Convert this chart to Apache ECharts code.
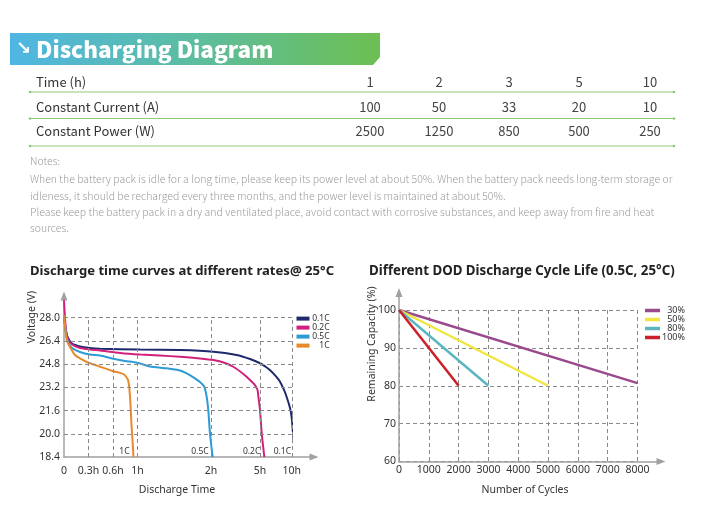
<!DOCTYPE html>
<html><head><meta charset="utf-8">
<script src="https://cdn.jsdelivr.net/npm/echarts@6/dist/echarts.min.js"></script>
<style>html,body{margin:0;padding:0;background:#fff}#c{width:724px;height:514px}</style>
</head><body><div id="c"></div>
<script>
// ---------------- data ----------------
const tableRowLabels = ['Time (h)', 'Constant Current (A)', 'Constant Power (W)'];
const timeHoursRow = [1, 2, 3, 5, 10];
const constantCurrentRow = [100, 50, 33, 20, 10];
const constantPowerRow = [2500, 1250, 850, 500, 250];
const noteLines = [
  'Notes:',
  'When the battery pack is idle for a long time, please keep its power level at about 50%. When the battery pack needs long-term storage or',
  'idleness, it should be recharged every three months, and the power level is maintained at about 50%.',
  'Please keep the battery pack in a dry and ventilated place, avoid contact with corrosive substances, and keep away from fire and heat',
  'sources.'
];

// left chart: discharge curves, [hours, volts]
const rateNames = ['0.1C', '0.2C', '0.5C', '1C'];
const timeTickHours = [0, 0.3, 0.6, 1, 2, 5, 10];
const timeTickLabels = ['0', '0.3h', '0.6h', '1h', '2h', '5h', '10h'];
const voltageTicks = [18.4, 20.0, 21.6, 23.2, 24.8, 26.4, 28.0];
const curve01C = [[0,28.12],[0.024,27.08],[0.049,26.6],[0.098,26.22],[0.196,26.02],[0.318,25.91],[0.441,25.86],[1.034,25.81],[1.578,25.77],[2.14,25.66],[3.57,25.43],[4.39,25.15],[5.0,24.86],[5.94,24.6],[6.84,24.28],[7.51,23.95],[8.14,23.59],[8.77,23.02],[9.24,22.47],[9.71,21.78],[9.98,21.09],[10.18,20.03],[10.5,18.4]];
const curve02C = [[0,29.2],[0.01,28.19],[0.024,27.15],[0.049,26.53],[0.098,26.15],[0.196,25.91],[0.318,25.81],[0.441,25.74],[0.714,25.57],[1.034,25.46],[1.306,25.39],[1.578,25.31],[1.85,25.19],[2.14,25.08],[2.857,24.88],[3.365,24.62],[3.98,24.12],[4.39,23.71],[4.69,23.36],[4.85,23.02],[4.9,22.56],[5.0,21.64],[5.27,20.03],[5.68,18.4]];
const curve05C = [[0,28.12],[0.024,26.95],[0.049,26.33],[0.098,25.91],[0.196,25.64],[0.318,25.46],[0.441,25.39],[0.588,25.19],[0.796,25.02],[0.976,24.91],[1.17,24.64],[1.397,24.51],[1.578,24.36],[1.669,24.17],[1.755,23.91],[1.85,23.57],[1.909,23.24],[1.941,22.55],[1.963,21.64],[1.986,20.03],[2.1,18.4]];
const curve1C = [[0,28.18],[0.033,26.46],[0.073,25.98],[0.135,25.43],[0.196,25.19],[0.285,24.93],[0.441,24.62],[0.591,24.33],[0.714,24.2],[0.768,24.12],[0.812,23.95],[0.85,23.64],[0.869,23.02],[0.886,21.98],[0.902,20.6],[0.918,19.57],[0.935,18.4]];

// right chart: cycle life, [cycles, remaining %]
const dodNames = ['30%', '50%', '80%', '100%'];
const dod30 = [[0,100],[8000,80.7]];
const dod50 = [[0,100],[5000,80]];
const dod80 = [[0,100],[3000,80]];
const dod100 = [[0,100],[2000,80]];

// ---------------- layout / styles ----------------
const FONT = "'Noto Sans', sans-serif";
const CJK = "'Noto Sans CJK SC', 'Noto Sans', sans-serif";
const rateColors = ['#1f2a6e', '#d2207d', '#2e9bd6', '#e8892b'];
const dodColors = ['#9a4a8c', '#f1e640', '#5bb6c0', '#cb1f2a'];
const gridLineStyle = { color: '#8a8a8a', width: 1, type: [4, 3] };
const axisArrowLine = { show: true, onZero: false, lineStyle: { color: '#a0a0a0', width: 1.5 }, symbol: ['none', 'triangle'], symbolSize: [7, 9] };

// warped time axis: slot position of each tick
const timeTickSlots = [0, 1, 2, 3, 6, 8, 9.3];
function hoursToSlot(h) {
  const H = timeTickHours, S = timeTickSlots;
  let i = 0;
  while (i < H.length - 2 && h > H[i + 1]) i++;
  return S[i] + (h - H[i]) / (H[i + 1] - H[i]) * (S[i + 1] - S[i]);
}
const slotMax = hoursToSlot(timeTickHours[timeTickHours.length - 1]);
const tickSlots = timeTickHours.map(hoursToSlot);
const vMin = voltageTicks[0], vMax = voltageTicks[voltageTicks.length - 1];

const rateCurves = [curve01C, curve02C, curve05C, curve1C];
const dodCurves = [dod30, dod50, dod80, dod100];

// grid lines of the left chart
const leftGridLines = [];
tickSlots.slice(1).forEach(s => leftGridLines.push([{ coord: [s, vMin] }, { coord: [s, vMax] }]));
voltageTicks.slice(1).forEach(v => leftGridLines.push([{ coord: [0, v] }, { coord: [slotMax, v] }]));

const graphics = [];
// banner
graphics.push({
  type: 'polygon', shape: { points: [[10, 33], [380, 33], [380, 57], [373, 65], [10, 65]] },
  style: { fill: new echarts.graphic.LinearGradient(0, 0, 1, 0, [
    { offset: 0, color: '#4fb6e4' }, { offset: 0.5, color: '#5dbd9f' }, { offset: 1, color: '#6dbf52' }]) }
});
graphics.push({ type: 'text', x: 16, y: 49, style: { text: '↘', fill: '#fff', fontSize: 18, fontWeight: 'bold', fontFamily: "'DejaVu Sans'", verticalAlign: 'middle' } });
graphics.push({ type: 'text', x: 36, y: 49, style: { text: 'Discharging Diagram', fill: '#fff', fontSize: 22.5, fontWeight: 900, fontFamily: CJK, verticalAlign: 'middle' } });
// table
const tableRowsY = [82, 107, 131];
const tableLinesY = [92, 118.5, 146];
const colX = [370, 439, 509, 579, 650];
const tableRows = [timeHoursRow, constantCurrentRow, constantPowerRow];
tableRowLabels.forEach((lab, r) => {
  graphics.push({ type: 'text', x: 36, y: tableRowsY[r], style: { text: lab, fill: '#333', fontSize: 13, fontFamily: CJK, verticalAlign: 'middle' } });
  tableRows[r].forEach((v, c) => {
    graphics.push({ type: 'text', x: colX[c], y: tableRowsY[r], style: { text: String(v), fill: '#444', fontSize: 13, fontFamily: CJK, align: 'center', verticalAlign: 'middle' } });
  });
  graphics.push({ type: 'line', shape: { x1: 30, y1: tableLinesY[r], x2: 674, y2: tableLinesY[r] }, style: { stroke: '#8fca78', lineWidth: 1 } });
  [30, 674].forEach(cx => graphics.push({ type: 'circle', shape: { cx: cx, cy: tableLinesY[r], r: 1.3 }, style: { fill: '#8fca78' } }));
});
// notes
const notesY = [161, 179, 196, 212, 228];
noteLines.forEach((t, i) => {
  graphics.push({ type: 'text', x: 30, y: notesY[i], style: { text: t, fill: '#9a9a9a', fontSize: 10.5, fontWeight: 300, fontFamily: CJK, verticalAlign: 'middle' } });
});
// chart titles
graphics.push({ type: 'text', x: 30, y: 271, style: { text: 'Discharge time curves at different rates@ 25°C', fill: '#222', fontSize: 13.1, fontWeight: 'bold', fontFamily: FONT, verticalAlign: 'middle' } });
graphics.push({ type: 'text', x: 369, y: 271, style: { text: 'Different DOD Discharge Cycle Life (0.5C, 25°C)', fill: '#222', fontSize: 13.3, fontWeight: 'bold', fontFamily: FONT, verticalAlign: 'middle' } });
// axis names
graphics.push({ type: 'text', x: 32.5, y: 317, rotation: Math.PI / 2, style: { text: 'Voltage (V)', fill: '#333', fontSize: 10.5, fontFamily: FONT, align: 'center', verticalAlign: 'middle' } });
graphics.push({ type: 'text', x: 177, y: 490, style: { text: 'Discharge Time', fill: '#333', fontSize: 10.5, fontFamily: FONT, align: 'center', verticalAlign: 'middle' } });
graphics.push({ type: 'text', x: 372, y: 344, rotation: Math.PI / 2, style: { text: 'Remaining Capacity (%)', fill: '#333', fontSize: 10.5, fontFamily: FONT, align: 'center', verticalAlign: 'middle' } });
graphics.push({ type: 'text', x: 525, y: 490, style: { text: 'Number of Cycles', fill: '#333', fontSize: 10.5, fontFamily: FONT, align: 'center', verticalAlign: 'middle' } });

const hiddenAxisBits = { axisTick: { show: false }, splitLine: { show: false } };

const option = {
  animation: false,
  textStyle: { fontFamily: FONT },
  grid: [
    { left: 64, top: 317.7, width: 227.85, height: 139.3 },
    { left: 64, top: 296, width: 250, height: 161 },
    { left: 399, top: 310, width: 238.5, height: 151.5 },
    { left: 399, top: 292.5, width: 262, height: 169 }
  ],
  xAxis: [
    { gridIndex: 0, type: 'value', min: 0, max: slotMax, axisLine: { show: false }, ...hiddenAxisBits,
      axisLabel: { customValues: tickSlots, margin: 9, color: '#333', fontSize: 10.5,
        formatter: v => { const i = tickSlots.findIndex(s => Math.abs(s - v) < 1e-6); return i >= 0 ? timeTickLabels[i] : ''; } } },
    { gridIndex: 1, type: 'value', min: 0, max: 1, axisLine: axisArrowLine, axisLabel: { show: false }, ...hiddenAxisBits },
    { gridIndex: 2, type: 'value', min: 0, max: 8000, interval: 1000, axisLine: { show: false }, axisTick: { show: false },
      splitLine: { show: true, lineStyle: gridLineStyle }, axisLabel: { margin: 3, color: '#333', fontSize: 10.5, formatter: v => String(v) } },
    { gridIndex: 3, type: 'value', min: 0, max: 1, axisLine: axisArrowLine, axisLabel: { show: false }, ...hiddenAxisBits }
  ],
  yAxis: [
    { gridIndex: 0, type: 'value', min: vMin, max: vMax, axisLine: { show: false }, ...hiddenAxisBits,
      axisLabel: { customValues: voltageTicks, margin: 4, color: '#333', fontSize: 10.5, formatter: v => v.toFixed(1) } },
    { gridIndex: 1, type: 'value', min: 0, max: 1, axisLine: axisArrowLine, axisLabel: { show: false }, ...hiddenAxisBits },
    { gridIndex: 2, type: 'value', min: 60, max: 100, interval: 10, axisLine: { show: false }, axisTick: { show: false },
      splitLine: { show: true, lineStyle: gridLineStyle }, axisLabel: { margin: 3, color: '#333', fontSize: 10.5, formatter: v => String(v) } },
    { gridIndex: 3, type: 'value', min: 0, max: 1, axisLine: axisArrowLine, axisLabel: { show: false }, ...hiddenAxisBits }
  ],
  legend: [
    { data: rateNames, orient: 'vertical', left: 296.5, top: 314.1, padding: 0, itemGap: 0, icon: 'rect',
      itemWidth: 13, itemHeight: 4, selectedMode: false, formatter: '{t|{name}}',
      textStyle: { rich: { t: { width: 15, align: 'right', fontSize: 8.5, color: '#333', lineHeight: 9.8, fontFamily: FONT } } } },
    { data: dodNames, orient: 'vertical', left: 645, top: 306, padding: 0, itemGap: 0, icon: 'rect',
      itemWidth: 15, itemHeight: 3.5, selectedMode: false, formatter: '{t|{name}}',
      textStyle: { rich: { t: { width: 20, align: 'right', fontSize: 9, color: '#333', lineHeight: 11.3, fontFamily: FONT } } } }
  ],
  series: [
    { name: 'grid', type: 'line', xAxisIndex: 0, yAxisIndex: 0, data: [[0, vMin]], showSymbol: false, silent: true,
      lineStyle: { opacity: 0 }, z: 1,
      markLine: { silent: true, symbol: ['none', 'none'], label: { show: false }, lineStyle: gridLineStyle, animation: false, data: leftGridLines } }
  ].concat(rateNames.map((n, i) => ({
    name: n, type: 'line', xAxisIndex: 0, yAxisIndex: 0, clip: false, z: 3,
    data: rateCurves[i].map(p => [hoursToSlot(p[0]), p[1]]),
    showSymbol: false, smooth: 0.2, itemStyle: { color: rateColors[i] },
    lineStyle: { color: rateColors[i], width: 2 }
  }))).concat(dodNames.map((n, i) => ({
    name: n, type: 'line', xAxisIndex: 2, yAxisIndex: 2, z: 3,
    data: dodCurves[i], showSymbol: false, itemStyle: { color: dodColors[i] },
    lineStyle: { color: dodColors[i], width: 2.5 }
  }))),
  graphic: graphics
};

const chart = echarts.init(document.getElementById('c'), null, { width: 724, height: 514 });
chart.setOption(option);

// rate labels next to the end of each curve, at the bottom of the plot
rateNames.forEach((n, i) => {
  const pts = rateCurves[i];
  const last = pts[pts.length - 1];
  const px = chart.convertToPixel({ xAxisIndex: 0, yAxisIndex: 0 }, [hoursToSlot(last[0]), last[1]]);
  graphics.push({ type: 'text', x: px[0] - 4, y: px[1] - 5, style: { text: n, fill: '#333', fontSize: 8.5, fontFamily: FONT, align: 'right', verticalAlign: 'middle' } });
});
chart.setOption({ graphic: graphics });
</script>
</body></html>
